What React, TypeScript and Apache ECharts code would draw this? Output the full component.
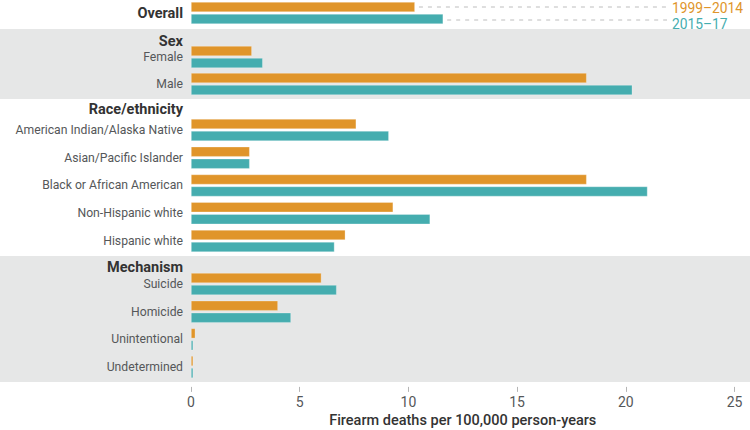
import React, { useEffect, useRef } from "react";
import * as echarts from "echarts";

// ---- data ----
const overallCategories = ["Overall"];
const sexCategories = ["Female", "Male"];
const raceCategories = [
  "American Indian/Alaska Native",
  "Asian/Pacific Islander",
  "Black or African American",
  "Non-Hispanic white",
  "Hispanic white",
];
const mechanismCategories = ["Suicide", "Homicide", "Unintentional", "Undetermined"];
const groupHeaders = ["", "Sex", "Race/ethnicity", "Mechanism"];
const periods = ["1999–2014", "2015–17"];

const overall1999 = [10.3];
const overall2015 = [11.6];
const sex1999 = [2.8, 18.2];
const sex2015 = [3.3, 20.3];
const race1999 = [7.6, 2.7, 18.2, 9.3, 7.1];
const race2015 = [9.1, 2.7, 21.0, 11.0, 6.6];
const mechanism1999 = [6.0, 4.0, 0.2, 0.1];
const mechanism2015 = [6.7, 4.6, 0.1, 0.1];

const xMin = 0;
const xMax = 25;
const xInterval = 5;
const axisTitle = "Firearm deaths per 100,000 person-years";

// ---- style ----
const ORANGE = "#e0952a";
const TEAL = "#45adaf";
const BAND = "#e6e7e7";
const LABEL = "#555759";
const HEADER = "#333333";
const FONT = "Roboto, 'Noto Sans', sans-serif";

export default function App() {
  const ref = useRef<HTMLDivElement>(null);

  useEffect(() => {
    if (!ref.current) return;
    const chart = echarts.init(ref.current, undefined, { renderer: "svg" });

    const groups = [
      { cats: overallCategories, a: overall1999, b: overall2015, top: 0, height: 26, nameGap: 0 },
      { cats: sexCategories, a: sex1999, b: sex2015, top: 43.5, height: 54, nameGap: 2.5 },
      { cats: raceCategories, a: race1999, b: race2015, top: 116.1, height: 138.75, nameGap: 6.5 },
      { cats: mechanismCategories, a: mechanism1999, b: mechanism2015, top: 270.2, height: 110.7, nameGap: 3 },
    ];
    const last = groups.length - 1;

    const grid = groups.map((g) => ({ left: 191, right: 15.5, top: g.top, height: g.height }));
    const xAxis = groups.map((g, i) => ({
      type: "value",
      gridIndex: i,
      min: xMin,
      max: xMax,
      interval: xInterval,
      show: i === last,
      offset: 6,
      splitLine: { show: false },
      axisLine: { show: false },
      axisTick: { show: true, length: 5, lineStyle: { color: "#b5b5b5", width: 1 } },
      axisLabel: { color: LABEL, fontSize: 14, margin: 8, fontFamily: FONT },
      name: i === last ? axisTitle : "",
      nameLocation: "middle",
      nameGap: 34,
      nameTextStyle: {
        color: HEADER,
        fontSize: 14.5,
        fontWeight: 500,
        fontFamily: FONT,
        verticalAlign: "middle",
      },
    }));
    const yAxis = groups.map((g, i) => ({
      type: "category",
      gridIndex: i,
      data: g.cats,
      inverse: true,
      axisLine: { show: false },
      axisTick: { show: false },
      splitLine: { show: false },
      axisLabel:
        i === 0
          ? { color: HEADER, fontSize: 14.5, fontWeight: "bold", margin: 8, fontFamily: FONT }
          : { color: LABEL, fontSize: 12.2, margin: 8, fontFamily: FONT },
      name: groupHeaders[i],
      nameLocation: "start",
      nameGap: g.nameGap,
      nameTextStyle: {
        color: HEADER,
        fontSize: 14.5,
        fontWeight: "bold",
        fontFamily: FONT,
        align: "right",
        verticalAlign: "middle",
        padding: [0, 8, 0, 0],
      },
    }));

    const series: any[] = [];
    groups.forEach((g, i) => {
      [g.a, g.b].forEach((vals, k) => {
        series.push({
          type: "bar",
          name: periods[k],
          xAxisIndex: i,
          yAxisIndex: i,
          data: vals,
          barWidth: 10,
          barGap: "20%",
          itemStyle: {
            color: k === 0 ? ORANGE : TEAL,
            borderColor: "rgba(255,255,255,0.45)",
            borderWidth: 0.6,
          },
          z: 3,
        });
      });
    });

    chart.setOption({
      animation: false,
      backgroundColor: "#ffffff",
      textStyle: { fontFamily: FONT },
      grid,
      xAxis,
      yAxis,
      series,
    });

    // legend lines, derived from the Overall bars through the axes
    const yc = chart.convertToPixel({ yAxisIndex: 0 }, overallCategories[0]) as number;
    const xa = chart.convertToPixel({ xAxisIndex: 0 }, overall1999[0]) as number;
    const xb = chart.convertToPixel({ xAxisIndex: 0 }, overall2015[0]) as number;
    const lineEnd = 667;

    chart.setOption({
      graphic: [
        { type: "rect", z: -10, shape: { x: 0, y: 29, width: 750, height: 70 }, style: { fill: BAND } },
        { type: "rect", z: -10, shape: { x: 0, y: 256, width: 750, height: 126 }, style: { fill: BAND } },
        {
          type: "line",
          shape: { x1: xa + 4, y1: yc - 6, x2: lineEnd, y2: yc - 6 },
          style: { stroke: "#bdbdbd", lineWidth: 1, lineDash: [4, 5] },
        },
        {
          type: "line",
          shape: { x1: xb + 4, y1: yc + 7, x2: lineEnd, y2: yc + 7 },
          style: { stroke: "#bdbdbd", lineWidth: 1, lineDash: [4, 5] },
        },
        {
          type: "text",
          x: 672,
          y: yc - 5,
          style: {
            text: periods[0],
            fill: ORANGE,
            fontSize: 13.8,
            fontFamily: FONT,
            verticalAlign: "middle",
          },
        },
        {
          type: "text",
          x: 672,
          y: yc + 10.5,
          style: {
            text: periods[1],
            fill: TEAL,
            fontSize: 13.8,
            fontFamily: FONT,
            verticalAlign: "middle",
          },
        },
      ],
    });

    return () => chart.dispose();
  }, []);

  return (
    <div
      ref={ref}
      style={{ position: "absolute", left: 0, top: 0, width: 750, height: 430 }}
    />
  );
}
